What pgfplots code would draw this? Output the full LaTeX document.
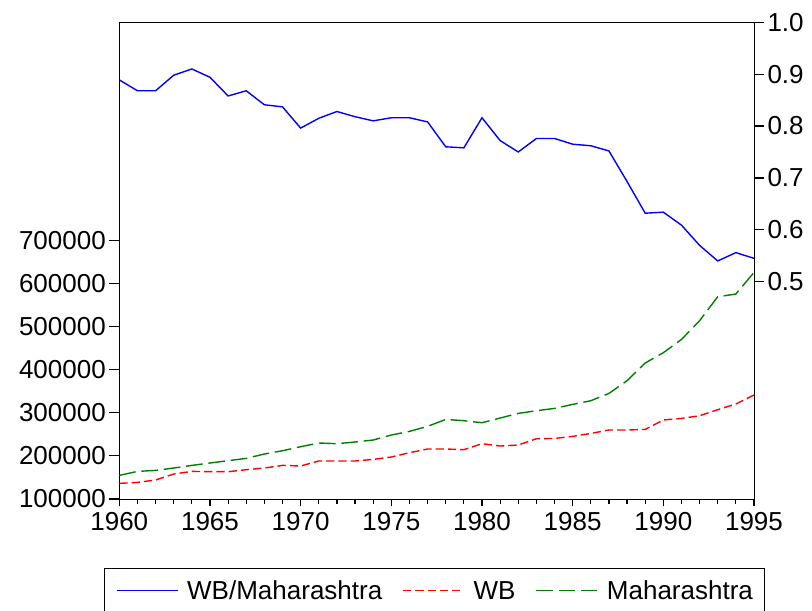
\documentclass[border=0pt]{standalone}
\usepackage{pgfplots}
\pgfplotsset{compat=1.18}
\usepackage{pgfplotstable}
\usepackage{fontspec}
\setmainfont{Liberation Sans}
\definecolor{eblue}{RGB}{0,0,255}
\definecolor{ered}{RGB}{255,0,0}
\definecolor{egreen}{RGB}{0,128,0}
\newcommand{\lf}{\fontsize{26bp}{30bp}\selectfont}
\pgfplotstableread{
year wb mah ratio
1960 136200 154700 0.889
1961 138500 164000 0.868
1962 144000 166300 0.868
1963 157900 171800 0.898
1964 164000 177900 0.910
1965 163300 183400 0.894
1966 163300 188800 0.858
1967 167900 194100 0.868
1968 171800 204300 0.841
1969 177900 211900 0.837
1970 176500 221200 0.796
1971 188100 229800 0.815
1972 188100 228200 0.828
1973 188100 232100 0.818
1974 191800 236700 0.810
1975 197300 248300 0.816
1976 207300 256700 0.816
1977 215900 268300 0.808
1978 215900 284500 0.760
1979 214300 281500 0.758
1980 228200 276800 0.816
1981 222800 287700 0.772
1982 225100 298400 0.750
1983 239700 304600 0.776
1984 240400 310000 0.776
1985 245100 319300 0.765
1986 252000 327800 0.762
1987 259900 344700 0.752
1988 259900 374200 0.693
1989 261300 415200 0.632
1990 283100 439100 0.634
1991 286800 469900 0.609
1992 293000 513200 0.570
1993 307000 568800 0.540
1994 320200 575100 0.556
1995 341000 625200 0.545
}\datatable
\begin{document}
\begin{tikzpicture}
\pgfplotsset{
  base/.style={
    scale only axis, width=634.7bp, height=476.7bp,
    xmin=1960, xmax=1995,
    axis line style={line width=1bp, black, -},
    tick style={line width=1.2bp, black},
    tick align=outside,
    font=\lf, tick label style={font=\lf},
    /pgf/number format/assume math mode=true,
    scaled ticks=false,
  },
  redstyle/.style={ered, line width=1.4bp, dash pattern=on 8.3bp off 4bp},
  greenstyle/.style={egreen, line width=1.4bp, dash pattern=on 16.7bp off 5.8bp},
  bluestyle/.style={eblue, line width=1.4bp},
}
% left axis
\begin{axis}[base,
  ymin=100000, ymax=1205000,
  ytick={100000,200000,300000,400000,500000,600000,700000},
  yticklabels={100000,200000,300000,400000,500000,600000,700000},
  ytick pos=left, xtick=\empty,
  major tick length=10bp,
]
\addplot[redstyle] table[x=year,y=wb]{\datatable};
\addplot[greenstyle] table[x=year,y=mah]{\datatable};
\end{axis}
% right axis
\begin{axis}[base,
  ymin=0.0811, ymax=1,
  axis y line*=right, axis x line=none,
  ytick={0.5,0.6,0.7,0.8,0.9,1.0},
  yticklabels={0.5,0.6,0.7,0.8,0.9,1.0},
  major tick length=10bp,
  legend columns=3,
  legend cell align=left,
  legend image code/.code={\draw[#1] (0bp,0bp) -- (61bp,0bp);},
  legend style={at={(-0.02442,-0.14537)}, anchor=north west,
    draw=black, line width=1bp, font=\lf,
    inner xsep=11.5bp, inner ysep=12bp,
    nodes={inner sep=0bp, text height=18.8bp, text depth=0.6bp},
    /tikz/every odd column/.append style={column sep=9bp},
    /tikz/every even column/.append style={column sep=20bp}},
]
\addplot[bluestyle] table[x=year,y=ratio]{\datatable};
\addlegendentry{WB/Maharashtra}
\addlegendimage{redstyle}
\addlegendentry{WB}
\addlegendimage{greenstyle}
\addlegendentry{Maharashtra}
\end{axis}
% x axis
\begin{axis}[base,
  ymin=0, ymax=1, hide y axis,
  axis x line*=bottom,
  xtick={1960,1965,1970,1975,1980,1985,1990,1995},
  xticklabels={1960,1965,1970,1975,1980,1985,1990,1995},
  minor x tick num=4,
  major tick length=7.5bp, minor tick length=5bp,
  xticklabel style={yshift=-2.3bp},
]
\addplot[draw=none] coordinates {(1960,0.5)};
\end{axis}
\pgfresetboundingbox
\path[use as bounding box] (-119.3bp,-112bp) rectangle (692.7bp,499bp);
\end{tikzpicture}
\end{document}
